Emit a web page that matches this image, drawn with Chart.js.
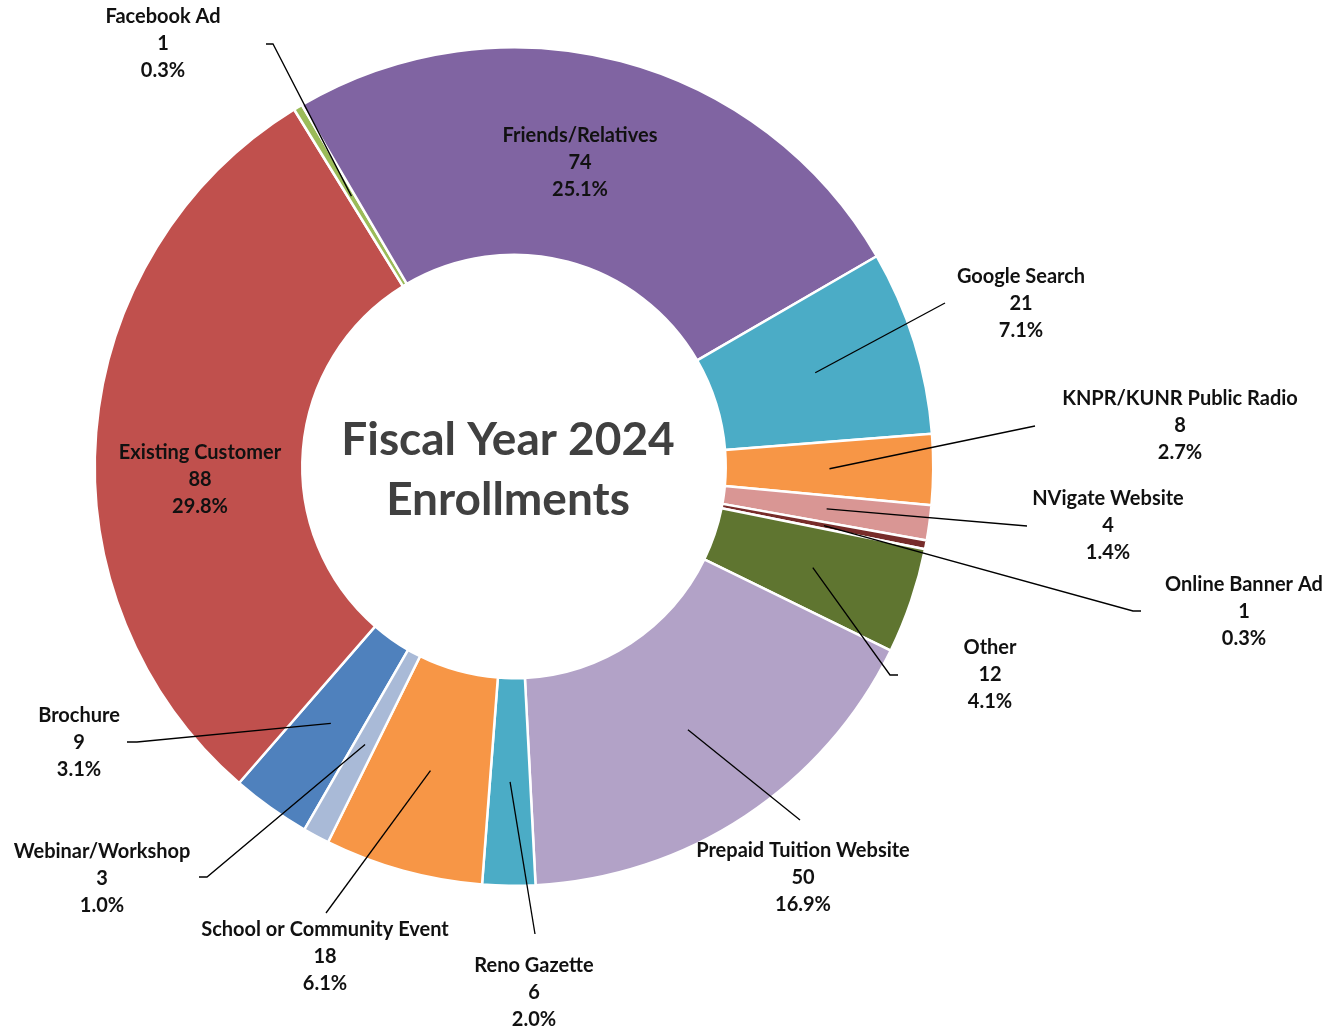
<!DOCTYPE html>
<html>
<head>
<meta charset="utf-8">
<script src="https://cdn.jsdelivr.net/npm/chart.js@4.4.1/dist/chart.umd.min.js"></script>
<style>
  html, body { margin: 0; padding: 0; background: #fff; }
  #wrap { width: 1344px; height: 1033px; }
</style>
</head>
<body>
<div id="wrap"><canvas id="graph" width="1344" height="1033"></canvas></div>
<script>
// enrollment sources, fiscal year 2024
const sources = [
  "Brochure", "Existing Customer", "Facebook Ad", "Friends/Relatives",
  "Google Search", "KNPR/KUNR Public Radio", "NVigate Website",
  "Online Banner Ad", "Other", "Prepaid Tuition Website", "Reno Gazette",
  "School or Community Event", "Webinar/Workshop"
];
const enrollments = [9, 88, 1, 74, 21, 8, 4, 1, 12, 50, 6, 18, 3];
const sliceColors = [
  "#4F81BD", "#C0504D", "#9BBB59", "#8064A2", "#4BACC6", "#F79646",
  "#D99694", "#772C2A", "#5F7530", "#B2A2C7", "#4BACC6", "#F79646", "#A9BAD7"
];
const centerTitle = ["Fiscal Year 2024", "Enrollments"];

// where each label sits (text centre, leader line end, hook); no end = inside the slice
const labelLayout = [
  { x: 79,   y: 743, end: [137, 742],  hook: -10 },
  { x: 200,  y: 480 },
  { x: 163,  y: 44,  end: [273, 44],   hook: -7 },
  { x: 580,  y: 163 },
  { x: 1021, y: 304, end: [945, 303],  hook: 0 },
  { x: 1180, y: 426, end: [1035, 426], hook: 0 },
  { x: 1108, y: 526, end: [1027, 526], hook: 0 },
  { x: 1244, y: 612, end: [1133, 611], hook: 8 },
  { x: 990,  y: 675, end: [890, 675],  hook: 8 },
  { x: 803,  y: 878, end: [800, 820],  hook: 0 },
  { x: 534,  y: 993, end: [535, 934],  hook: 0 },
  { x: 325,  y: 957, end: [326, 913],  hook: 0 },
  { x: 102,  y: 879, end: [207, 877],  hook: -8 }
];

const total = enrollments.reduce((a, b) => a + b, 0);
const LABEL_FONT = "bold 20px Lato, 'Open Sans', sans-serif";
const LINE_H = 27;

const sliceLabels = {
  id: "sliceLabels",
  afterDatasetsDraw(chart) {
    const ctx = chart.ctx;
    const arcs = chart.getDatasetMeta(0).data;
    ctx.save();

    // centre title
    const c = arcs[0].getProps(["x", "y"], true);
    ctx.fillStyle = "#404040";
    ctx.font = "bold 46px Lato, 'Open Sans', sans-serif";
    ctx.textAlign = "center";
    ctx.textBaseline = "middle";
    ctx.fillText(centerTitle[0], c.x - 6, c.y - 26);
    ctx.fillText(centerTitle[1], c.x - 6, c.y + 34);

    ctx.font = LABEL_FONT;
    arcs.forEach((arc, i) => {
      const p = arc.getProps(["x", "y", "startAngle", "endAngle", "innerRadius", "outerRadius"], true);
      const mid = (p.startAngle + p.endAngle) / 2;
      const r = (p.innerRadius + p.outerRadius) / 2;
      const sx = p.x + Math.cos(mid) * r;
      const sy = p.y + Math.sin(mid) * r;
      const lay = labelLayout[i];
      if (lay.end) {
        ctx.strokeStyle = "#000";
        ctx.lineWidth = 1.3;
        ctx.beginPath();
        ctx.moveTo(sx, sy);
        ctx.lineTo(lay.end[0], lay.end[1]);
        if (lay.hook) ctx.lineTo(lay.end[0] + lay.hook, lay.end[1]);
        ctx.stroke();
      }
      const pct = (enrollments[i] / total * 100).toFixed(1) + "%";
      const lines = [sources[i], String(enrollments[i]), pct];
      ctx.fillStyle = "#111";
      lines.forEach((t, k) => ctx.fillText(t, lay.x, lay.y + (k - 1) * LINE_H));
    });
    ctx.restore();
  }
};

new Chart(document.getElementById("graph"), {
  type: "doughnut",
  data: {
    labels: sources,
    datasets: [{
      data: enrollments,
      backgroundColor: sliceColors,
      borderColor: "#ffffff",
      borderWidth: 2.5
    }]
  },
  options: {
    responsive: false,
    animation: false,
    rotation: 210,
    cutout: "50.5%",
    layout: { padding: { left: 93, top: 46, right: 409, bottom: 146 } },
    plugins: {
      legend: { display: false },
      tooltip: { enabled: false }
    }
  },
  plugins: [sliceLabels]
});
</script>
</body>
</html>
